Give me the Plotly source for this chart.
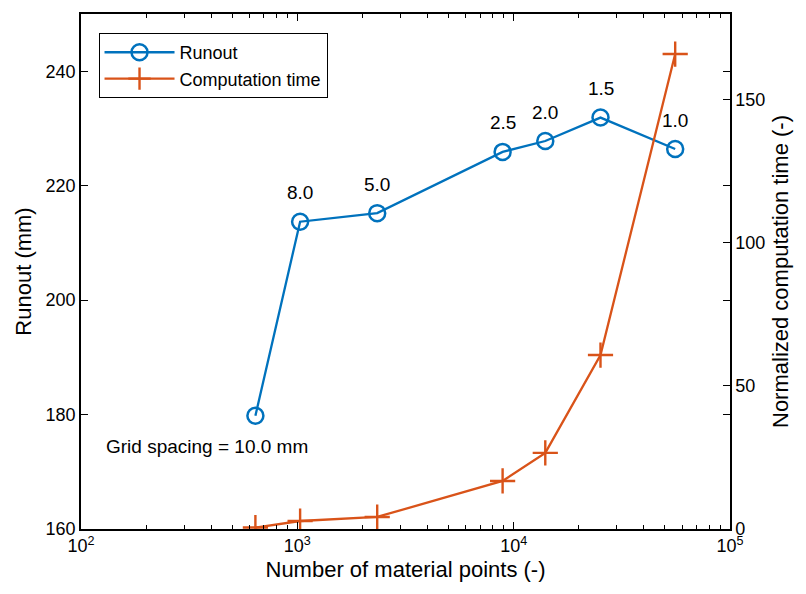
import math
import plotly.graph_objects as go

# ---- data ----
n_points = [640, 1030, 2340, 8890, 14000, 25200, 55800]
runout_mm = [179.8, 213.7, 215.2, 225.9, 227.8, 231.9, 226.4]
comp_time = [0.5, 2.8, 4.2, 16.8, 26.6, 60.8, 166.0]
spacing_labels = ["", "8.0", "5.0", "2.5", "2.0", "1.5", "1.0"]
x_tickvals = [1e2, 1e3, 1e4, 1e5]
x_ticktext = ["10<sup>2</sup>", "10<sup>3</sup>", "10<sup>4</sup>", "10<sup>5</sup>"]
y_ticks = [160, 180, 200, 220, 240]
y2_ticks = [0, 50, 100, 150]

BLUE = "#0072BD"
ORANGE = "#D95319"
FONT = "Liberation Sans, Arial, sans-serif"

fig = go.Figure()
fig.add_trace(go.Scatter(
    x=n_points, y=runout_mm, mode="lines+markers", name="Runout",
    line=dict(color=BLUE, width=2.3),
    marker=dict(symbol="circle-open", size=16, color=BLUE, line=dict(width=2.5, color=BLUE)),
    yaxis="y"))
fig.add_trace(go.Scatter(
    x=n_points, y=comp_time, mode="lines+markers", name="Computation time",
    line=dict(color=ORANGE, width=2.3),
    marker=dict(symbol="cross-thin", size=18, color=ORANGE, line=dict(width=2.4, color=ORANGE)),
    yaxis="y2"))

for xv, yv, lab in zip(n_points, runout_mm, spacing_labels):
    if lab:
        fig.add_annotation(x=math.log10(xv), y=yv, xref="x", yref="y", text=lab, showarrow=False,
                           yshift=29, font=dict(size=19, color="black", family=FONT))

fig.add_annotation(x=0.036, y=174.5, xref="paper", yref="y", text="Grid spacing = 10.0 mm",
                   showarrow=False, xanchor="left", yanchor="middle",
                   font=dict(size=19, color="black", family=FONT))

fig.update_layout(
    width=806, height=594,
    margin=dict(l=81, r=76, t=14, b=65),
    paper_bgcolor="white", plot_bgcolor="white",
    font=dict(family=FONT, size=18, color="black"),
    showlegend=True,
    legend=dict(x=0.027, y=0.963, xanchor="left", yanchor="top",
                bordercolor="black", borderwidth=1, bgcolor="white",
                font=dict(size=18, family=FONT), tracegroupgap=0, itemwidth=70),
    xaxis=dict(type="log", range=[2, 5], tickvals=x_tickvals, ticktext=x_ticktext,
               ticks="inside", ticklen=7, tickcolor="black", tickwidth=1,
               showline=True, linecolor="black", linewidth=1.5, mirror="ticks",
               showgrid=False, zeroline=False,
               minor=dict(ticks="inside", ticklen=4, tickcolor="black", dtick="D1", showgrid=False),
               title=dict(text="Number of material points (-)", font=dict(size=22), standoff=6),
               tickfont=dict(size=18)),
    yaxis=dict(range=[160, 250], tickvals=y_ticks, ticks="inside", ticklen=7,
               tickcolor="black", showline=True, linecolor="black", linewidth=1.5,
               mirror="ticks", showgrid=False, zeroline=False,
               title=dict(text="Runout (mm)", font=dict(size=22), standoff=8),
               tickfont=dict(size=18)),
    yaxis2=dict(range=[0, 180], tickvals=y2_ticks, overlaying="y", side="right",
                ticks="inside", ticklen=7, tickcolor="black", showline=True,
                linecolor="black", linewidth=1.5, showgrid=False, zeroline=False,
                title=dict(text="Normalized computation time (-)", font=dict(size=22), standoff=8),
                tickfont=dict(size=18)),
)

fig.write_html("out.html")
